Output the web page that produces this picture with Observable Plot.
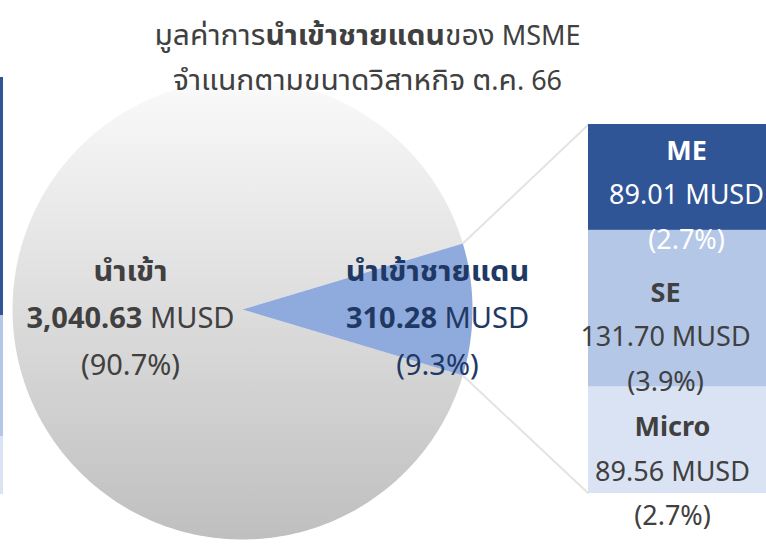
<!DOCTYPE html>
<html><head><meta charset="utf-8">
<script src="https://cdn.jsdelivr.net/npm/d3@7"></script>
<script src="https://cdn.jsdelivr.net/npm/@observablehq/plot@0.6"></script>
<style>
body{margin:0;background:#fff;}
#wrap{position:relative;width:766px;height:557px;overflow:hidden;background:#fff;}
#wrap svg{position:absolute;left:0;top:0;overflow:visible;}
</style></head><body><div id="wrap"></div>
<script>
// ---------- data ----------
const titleLines = ["มูลค่าการ**นำเข้าชายแดน**ของ MSME", "จำแนกตามขนาดวิสาหกิจ ต.ค. 66"];
const pieLabels = ["นำเข้าชายแดน", "นำเข้า"];
const pieValues = [310.28, 3040.63];
const piePercents = ["9.3%", "90.7%"];
const sizeLabels = ["Micro", "SE", "ME"];
const sizeValues = [89.56, 131.70, 89.01];
const sizePercents = ["2.7%", "3.9%", "2.7%"];
const edgeStripValues = [58, 121, 238]; // partially visible bar at left edge (bottom to top)

// ---------- layout ----------
const W = 766, H = 557;
const FONT = "'Noto Sans', 'Noto Sans Thai UI', 'Noto Sans Thai', 'Leelawadee UI', 'Open Sans', sans-serif";
const TXT = "#404040", NAVY = "#1F3864";
const CX = 242, CY = 309, R = 230;
const BAR_X0 = 588, BAR_X1 = 766, BAR_Y0 = 493, BAR_Y1 = 124;
const sizeColors = ["#DAE3F3", "#B4C7E7", "#2F5597"];
const fmt = d3.format(",.2f");
const TITLE_FS = 27, PFS = 29, PLINE = 47, BFS = 27, LINE = 44.5;
const thaiFactor = {27: 1.11, 29: 1.06};

// ---------- chart B : stacked bar ----------
const total = d3.sum(sizeValues);
const cum = d3.cumsum(sizeValues);
const segs = sizeLabels.map((s, i) => ({group: "MSME", size: s, value: sizeValues[i], pct: sizePercents[i], mid: cum[i] - sizeValues[i] / 2}));
const nudge = {Micro: {dx: -5, dy: 32}, SE: {dx: -12, dy: 29}, ME: {dx: 9, dy: 18}};
const chartB = Plot.plot({
  width: W, height: H, margin: 0,
  style: {fontFamily: FONT, background: "transparent"},
  x: {type: "band", domain: ["MSME"], range: [BAR_X0, BAR_X1], padding: 0, axis: null},
  y: {domain: [0, total], range: [BAR_Y0, BAR_Y1], axis: null},
  color: {domain: sizeLabels, range: sizeColors},
  marks: [
    Plot.barY(segs, {x: "group", y: "value", fill: "size"}),
    ...segs.flatMap(d => {
      const c = d.size === "ME" ? "#ffffff" : TXT;
      const n = nudge[d.size];
      return [
        Plot.text([d], {x: "group", y: "mid", text: "size", dx: n.dx, dy: n.dy - LINE, fill: c, fontSize: BFS, fontWeight: "bold"}),
        Plot.text([d], {x: "group", y: "mid", text: v => fmt(v.value) + " MUSD", dx: n.dx, dy: n.dy, fill: c, fontSize: BFS}),
        Plot.text([d], {x: "group", y: "mid", text: v => "(" + v.pct + ")", dx: n.dx, dy: n.dy + LINE, fill: c, fontSize: BFS})
      ];
    })
  ]
});
const yB = chartB.scale("y");

// ---------- chart A : pie, connectors, titles ----------
const pieTotal = d3.sum(pieValues);
const half = Math.PI * pieValues[0] / pieTotal;
const arcs = d3.pie().sort(null).startAngle(Math.PI / 2 - half).endAngle(Math.PI / 2 - half + 2 * Math.PI)(pieValues);
const pt = (a, r) => [CX + r * Math.sin(a), CY - r * Math.cos(a)];
const pieRows = [];
arcs.forEach((a, i) => {
  pieRows.push({slice: pieLabels[i], x: CX, y: CY});
  const n = Math.max(8, Math.ceil((a.endAngle - a.startAngle) * 60));
  for (let k = 0; k <= n; k++) {
    const [x, y] = pt(a.startAngle + (a.endAngle - a.startAngle) * k / n, R);
    pieRows.push({slice: pieLabels[i], x, y});
  }
});
const blue = arcs[0];
const [ux, uy] = pt(blue.startAngle, R);
const [lx, ly] = pt(blue.endAngle, R);
const links = [
  {x1: ux, y1: uy, x2: BAR_X0, y2: yB.apply(total)},
  {x1: lx, y1: ly, x2: BAR_X0, y2: yB.apply(0)}
];

const edgeScale = Plot.scale({y: {domain: [0, d3.sum(edgeStripValues)], range: [494, 77]}});
const edgeCum = d3.cumsum(edgeStripValues);
const edgeRows = edgeStripValues.map((v, i) => ({y1: edgeScale.apply(edgeCum[i] - v), y2: edgeScale.apply(edgeCum[i]), c: sizeColors[i]}));

const pieText = [
  {x: 130, y: 271, t: "**" + pieLabels[1] + "**", c: TXT},
  {x: 130, y: 271 + PLINE, t: "**" + fmt(pieValues[1]) + "** MUSD", c: TXT},
  {x: 130, y: 271 + 2 * PLINE, t: "(" + piePercents[1] + ")", c: TXT},
  {x: 437, y: 271, t: "**" + pieLabels[0] + "**", c: NAVY},
  {x: 437, y: 271 + PLINE, t: "**" + fmt(pieValues[0]) + "** MUSD", c: NAVY},
  {x: 437, y: 271 + 2 * PLINE, t: "(" + piePercents[0] + ")", c: NAVY}
];
const titleRows = titleLines.map((t, i) => ({x: 367, y: 36 + i * 45, t}));

const chartA = Plot.plot({
  width: W, height: H, margin: 0,
  style: {fontFamily: FONT, background: "transparent"},
  x: {domain: [0, W], range: [0, W], axis: null},
  y: {domain: [0, H], range: [0, H], axis: null},
  marks: [
    Plot.rect(edgeRows, {x1: 0, x2: 3, y1: "y1", y2: "y2", fill: "c"}),
    Plot.line(pieRows.filter(d => d.slice === pieLabels[1]), {x: "x", y: "y", curve: "linear-closed", fill: "url(#pieGrad)", stroke: "none"}),
    Plot.line(pieRows.filter(d => d.slice === pieLabels[0]), {x: "x", y: "y", curve: "linear-closed", fill: "#8FAADC", stroke: "none"}),
    Plot.link(links, {x1: "x1", y1: "y1", x2: "x2", y2: "y2", stroke: "#E3E3E3", strokeWidth: 2}),
    Plot.text(titleRows, {x: "x", y: "y", text: "t", fill: TXT, fontSize: TITLE_FS}),
    Plot.text(pieText, {x: "x", y: "y", text: "t", fill: "c", fontSize: PFS})
  ]
});

d3.select(chartA).insert("defs", ":first-child").html(
  `<linearGradient id="pieGrad" x1="0" y1="0" x2="0" y2="1">
     <stop offset="0" stop-color="#FAFAFA"/>
     <stop offset="1" stop-color="#BFBFBF"/>
   </linearGradient>`);

const SVGNS = "http://www.w3.org/2000/svg";
// mixed-weight text: **bold** segments
function richify(svg) {
  d3.select(svg).selectAll("text").each(function () {
    const el = this;
    const targets = el.querySelector("tspan") ? Array.from(el.querySelectorAll("tspan")) : [el];
    targets.forEach(node => {
      const s = node.textContent;
      if (!s.includes("**")) return;
      const parts = s.split("**");
      node.textContent = "";
      parts.forEach((p, i) => {
        if (!p) return;
        const ts = document.createElementNS(SVGNS, "tspan");
        ts.textContent = p;
        ts.setAttribute("font-weight", i % 2 ? "bold" : "normal");
        node.appendChild(ts);
      });
    });
  });
}
// Thai runs drawn slightly larger (the Thai face runs small next to Latin)
function thaiScale(svg) {
  const walker = document.createTreeWalker(svg, NodeFilter.SHOW_TEXT);
  const nodes = [];
  while (walker.nextNode()) nodes.push(walker.currentNode);
  nodes.forEach(tn => {
    const s = tn.data;
    if (!/[\u0E00-\u0E7F]/.test(s)) return;
    const g = tn.parentNode.closest("g[font-size]");
    const base = g ? +g.getAttribute("font-size") : parseFloat(getComputedStyle(tn.parentNode).fontSize);
    const f = thaiFactor[base] || 1.08;
    const frag = document.createDocumentFragment();
    s.split(/([\u0E00-\u0E7F]+)/).forEach((p, i) => {
      if (!p) return;
      if (i % 2) {
        const ts = document.createElementNS(SVGNS, "tspan");
        ts.textContent = p;
        ts.setAttribute("font-size", (base * f).toFixed(1));
        frag.appendChild(ts);
      } else frag.appendChild(document.createTextNode(p));
    });
    tn.parentNode.replaceChild(frag, tn);
  });
}
richify(chartA);

const wrap = document.getElementById("wrap");
wrap.appendChild(chartA);
wrap.appendChild(chartB);
thaiScale(chartA);
</script></body></html>
